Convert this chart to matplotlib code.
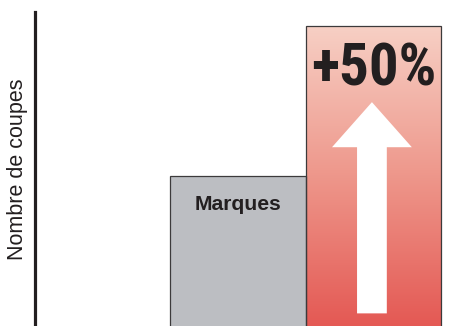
import matplotlib.pyplot as plt
import numpy as np
from matplotlib.colors import LinearSegmentedColormap
from matplotlib.patches import FancyArrow

# brands vs. the new product, axis does not start at zero
categories = ["Marques", "+50%"]
values = [100, 150]
ylabel = "Nombre de coupes"

ink = "#231F20"
plt.rcParams['font.family'] = ['Liberation Sans', 'DejaVu Sans']

fig = plt.figure(figsize=(4.68, 3.26), dpi=100)
ax = fig.add_axes([35/468, 0, 433/468, 314/326])

bars = ax.bar([0, 1], values, width=1.0, color=["#BCBEC2", "none"],
              edgecolor="#3C3A3B", linewidth=0.9, zorder=2)

# vertical gradient inside the second bar
red = LinearSegmentedColormap.from_list("red", ["#E45954", "#EE978B", "#F7D0C5"])
grad = np.linspace(0, 1, 256).reshape(-1, 1)
im = ax.imshow(grad, cmap=red, origin="lower", aspect="auto",
               extent=[0.5, 1.5, 50, values[1]], zorder=1)
im.set_clip_path(bars[1])
ax.set_xlim(-1.5, 1.7)
ax.set_ylim(50, 154.5)

arrow = FancyArrow(0.99, 54.2, 0, 70.3, width=0.22, head_width=0.59,
                   head_length=15, length_includes_head=True,
                   color="white", linewidth=0, zorder=3)
ax.add_patch(arrow)

ax.text(0, 88.5, categories[0], ha="center", va="baseline",
        fontsize=15.2, fontweight="bold", color=ink, zorder=4)
ax.text(1.005, 129.9, categories[1], ha="center", va="baseline",
        fontsize=42.5, fontweight="bold", color=ink, zorder=4,
        family=['Roboto Condensed', 'Liberation Sans Narrow', 'Liberation Sans'])

ax.set_ylabel(ylabel, fontsize=15.5, color=ink, va="center")
ax.yaxis.set_label_coords(-0.04, 0.5)

for s in ["top", "right", "bottom"]:
    ax.spines[s].set_visible(False)
ax.spines["left"].set_linewidth(2.3)
ax.spines["left"].set_color(ink)
ax.set_xticks([])
ax.set_yticks([])

fig.savefig("out.png", dpi=100)
